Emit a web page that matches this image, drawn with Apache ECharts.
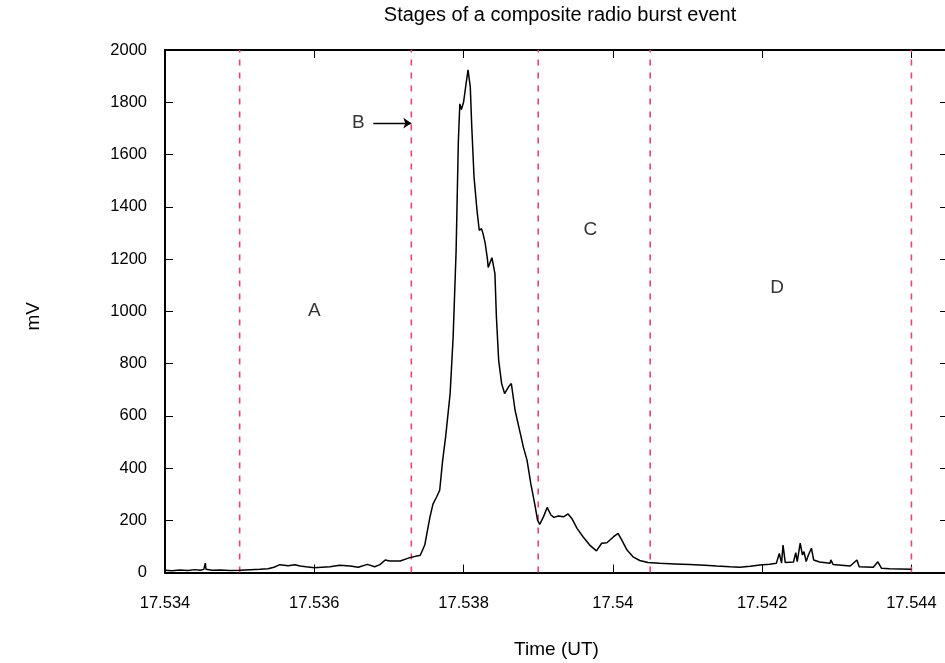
<!DOCTYPE html>
<html>
<head>
<meta charset="utf-8">
<script src="https://cdn.jsdelivr.net/npm/echarts@6/dist/echarts.min.js"></script>
<style>
html,body{margin:0;padding:0;background:#fff;}
#chart{width:945px;height:663px;}
</style>
</head>
<body>
<div id="chart"></div>
<script>
// ---- data ----
const times = [
17.53400,17.53409,17.53420,17.53431,17.53440,17.53447,17.53452,17.53454,17.53455,17.53463,
17.53474,17.53487,17.53500,17.53514,17.53527,17.53538,17.53546,17.53554,17.53565,17.53574,
17.53581,17.53589,17.53600,17.53610,17.53621,17.53634,17.53648,17.53659,17.53671,17.53681,
17.53688,17.53695,17.53701,17.53715,17.53728,17.53742,17.53748,17.53755,17.53759,17.53764,
17.53768,17.53772,17.53776,17.53782,17.53786,17.53790,17.53793,17.53795,17.53797,17.53800,
17.53803,17.53806,17.53809,17.53811,17.53814,17.53818,17.53821,17.53824,17.53826,17.53829,
17.53832,17.53833,17.53835,17.53838,17.53842,17.53844,17.53847,17.53851,17.53855,17.53860,
17.53864,17.53869,17.53873,17.53877,17.53880,17.53885,17.53890,17.53896,17.53899,17.53902,
17.53907,17.53912,17.53917,17.53921,17.53927,17.53934,17.53940,17.53945,17.53952,17.53960,
17.53969,17.53978,17.53985,17.53992,17.54001,17.54007,17.54012,17.54019,17.54027,17.54036,
17.54047,17.54063,17.54083,17.54103,17.54123,17.54139,17.54157,17.54170,17.54184,17.54197,
17.54210,17.54219,17.54223,17.54226,17.54228,17.54231,17.54242,17.54245,17.54247,17.54251,
17.54254,17.54256,17.54259,17.54262,17.54264,17.54266,17.54269,17.54277,17.54291,17.54292,
17.54295,17.54318,17.54327,17.54330,17.54349,17.54355,17.54360,17.54371,17.54385,17.54400
];
const millivolts = [
9,7,10,8,11,9,12,36,12,9,
10,8,9,11,12,14,20,30,26,30,
25,22,18,20,22,28,25,20,31,22,
30,48,44,44,57,66,105,213,262,290,
315,430,520,685,900,1230,1650,1794,1772,1800,
1864,1924,1858,1705,1514,1386,1310,1316,1298,1260,
1199,1168,1164,1205,1144,978,813,723,685,710,
723,621,570,520,481,430,341,252,201,184,
213,249,220,211,216,213,224,207,169,137,
105,83,112,114,137,150,124,86,60,46,
38,35,33,31,28,25,22,20,24,29,
32,35,73,36,105,38,40,76,42,112,
67,80,42,67,60,93,48,40,35,48,
31,25,48,22,20,41,16,14,13,12
];
const stageBounds = [17.535, 17.5373, 17.539, 17.5405, 17.544];
const stageNames = ['A', 'B', 'C', 'D'];
const stageNameX = [17.536, 17.53659, 17.5397, 17.5422];
const stageNameY = [1000, 1723, 1310, 1088];
const arrowStart = [17.53679, 1720];
const arrowEnd = [17.5373, 1720];
const xMin = 17.534, xMax = 17.54449, xStep = 0.002;
const yMin = 0, yMax = 2000, yStep = 200;
const titleText = 'Stages of a composite radio burst event';
const xName = 'Time (UT)';
const yName = 'mV';

// ---- chart ----
const FONT = '"Liberation Sans", Arial, sans-serif';
const chart = echarts.init(document.getElementById('chart'), null, {renderer: 'canvas'});
const lineData = times.map((t, i) => [t, millivolts[i]]);
const fmtX = v => String(parseFloat(v.toFixed(4)));
const fmtY = v => String(v);
const axisLineStyle = {color: '#000', width: 2};
const tickStyle = {show: true, inside: true, length: 8, lineStyle: {color: '#000', width: 1}};
const DASH_COLOR = '#e4476c';

const boundarySeries = stageBounds.map(x => ({
  type: 'line',
  data: [[x, yMin], [x, yMax]],
  showSymbol: false,
  symbol: 'none',
  silent: true,
  lineStyle: {color: DASH_COLOR, width: 1.6, type: [6, 7]},
  z: 2
}));

chart.setOption({
  animation: false,
  backgroundColor: '#fff',
  title: {
    text: titleText,
    left: 555, top: 0, textAlign: 'center',
    textStyle: {fontFamily: FONT, fontSize: 20, fontWeight: 'normal', color: '#000'}
  },
  grid: {left: 165, top: 50, width: 783, bottom: 90.5, containLabel: false, outerBoundsMode: 'none'},
  xAxis: [{
    type: 'value', min: xMin, max: xMax, interval: xStep, position: 'bottom',
    name: xName, nameLocation: 'middle', nameGap: 68,
    nameTextStyle: {fontFamily: FONT, fontSize: 19, color: '#000'},
    axisLine: {show: true, onZero: false, lineStyle: axisLineStyle},
    axisTick: tickStyle,
    axisLabel: {formatter: fmtX, margin: 22, fontFamily: FONT, fontSize: 16.5, color: '#000', showMaxLabel: false},
    splitLine: {show: false}
  }, {
    type: 'value', min: xMin, max: xMax, interval: xStep, position: 'top',
    axisLine: {show: true, onZero: false, lineStyle: axisLineStyle},
    axisTick: tickStyle,
    axisLabel: {show: false},
    splitLine: {show: false}
  }],
  yAxis: [{
    type: 'value', min: yMin, max: yMax, interval: yStep, position: 'left',
    name: yName, nameLocation: 'middle', nameGap: 122,
    nameTextStyle: {fontFamily: FONT, fontSize: 19, color: '#000', padding: [0, 0, 0, -10]},
    axisLine: {show: true, onZero: false, lineStyle: axisLineStyle},
    axisTick: tickStyle,
    axisLabel: {formatter: fmtY, margin: 18, fontFamily: FONT, fontSize: 16.5, color: '#000'},
    splitLine: {show: false}
  }, {
    type: 'value', min: yMin, max: yMax, interval: yStep, position: 'right',
    axisLine: {show: true, onZero: false, lineStyle: axisLineStyle},
    axisTick: tickStyle,
    axisLabel: {show: false},
    splitLine: {show: false}
  }],
  series: boundarySeries.concat([{
    type: 'line',
    data: lineData,
    showSymbol: false,
    symbol: 'none',
    lineStyle: {color: '#000', width: 1.5},
    z: 3
  }, {
    type: 'scatter',
    symbolSize: 0,
    data: stageNames.map((n, i) => ({name: n, value: [stageNameX[i], stageNameY[i]]})),
    label: {show: true, position: 'inside', formatter: '{b}', fontFamily: FONT, fontSize: 19, color: '#000'},
    z: 4,
    markLine: {
      silent: true, animation: false,
      symbol: ['none', 'arrow'], symbolSize: 8,
      label: {show: false},
      lineStyle: {color: '#000', width: 1.3, type: 'solid'},
      data: [[{coord: arrowStart}, {coord: arrowEnd}]]
    }
  }])
});
</script>
</body>
</html>
